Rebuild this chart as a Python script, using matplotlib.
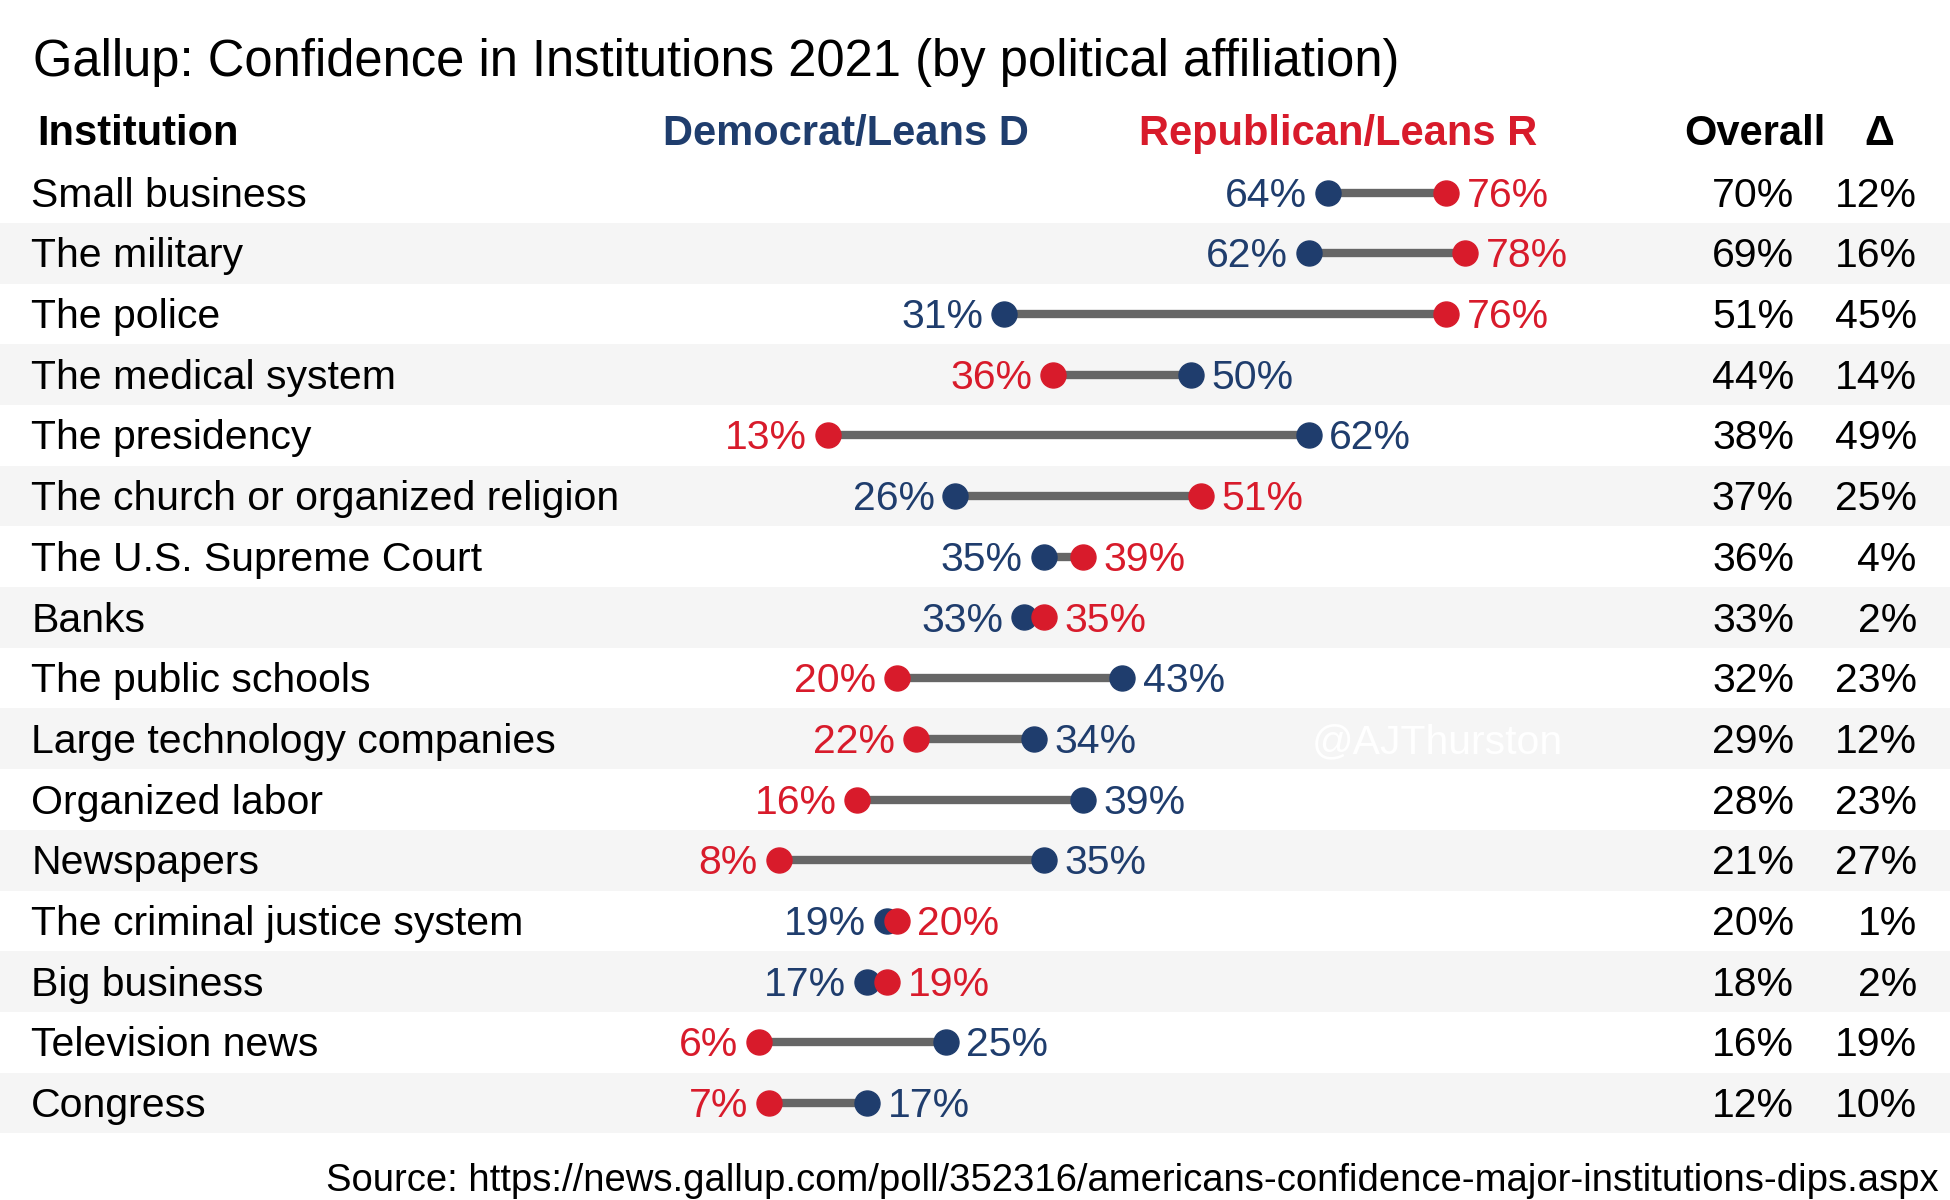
import matplotlib
matplotlib.use("Agg")
import matplotlib.pyplot as plt

institutions = [
    "Small business", "The military", "The police", "The medical system",
    "The presidency", "The church or organized religion", "The U.S. Supreme Court",
    "Banks", "The public schools", "Large technology companies", "Organized labor",
    "Newspapers", "The criminal justice system", "Big business",
    "Television news", "Congress",
]
dem = [64, 62, 31, 50, 62, 26, 35, 33, 43, 34, 39, 35, 19, 17, 25, 17]
rep = [76, 78, 76, 36, 13, 51, 39, 35, 20, 22, 16, 8, 20, 19, 6, 7]
overall = [70, 69, 51, 44, 38, 37, 36, 33, 32, 29, 28, 21, 20, 18, 16, 12]
delta = [12, 16, 45, 14, 49, 25, 4, 2, 23, 12, 23, 27, 1, 2, 19, 10]

BLUE = "#1f3d6d"
RED = "#d81b2b"
GRAY = "#666666"
BAND = "#f5f5f5"

plt.rcParams["font.family"] = ["Liberation Sans", "DejaVu Sans"]

fig = plt.figure(figsize=(19.5, 12), dpi=100)
ax = fig.add_axes([0, 0, 1, 1])
ax.set_xlim(-71.4, 127.4)
ax.set_ylim(16.6, -3.176)
ax.axis("off")

fs = 29.5
lab = ax.get_yaxis_transform()  # x in axes fraction, y in data
ty = 0.05  # nudge text down a hair to sit level with the dots

for i, name in enumerate(institutions):
    if i % 2 == 1:
        ax.axhspan(i - 0.5, i + 0.5, color=BAND, zorder=0, lw=0)
    d, r = dem[i], rep[i]
    ax.plot([d, r], [i, i], color=GRAY, lw=6, zorder=1, solid_capstyle="butt")
    ax.plot(d, i, "o", color=BLUE, ms=18, zorder=2)
    ax.plot(r, i, "o", color=RED, ms=18, zorder=3)
    lo, hi = (d, r) if d <= r else (r, d)
    lo_c, hi_c = (BLUE, RED) if d <= r else (RED, BLUE)
    ax.annotate(f"{lo}%", (lo, i + ty), xytext=(-15, 0), textcoords="offset points",
                ha="right", va="center", fontsize=fs, color=lo_c)
    ax.annotate(f"{hi}%", (hi, i + ty), xytext=(15, 0), textcoords="offset points",
                ha="left", va="center", fontsize=fs, color=hi_c)
    ax.text(0.016, i + ty, name, transform=lab, ha="left", va="center", fontsize=fs)
    ax.text(0.920, i + ty, f"{overall[i]}%", transform=lab, ha="right", va="center", fontsize=fs)
    ax.text(0.983, i + ty, f"{delta[i]}%", transform=lab, ha="right", va="center", fontsize=fs)

ax.text(0.737, 9 + ty, "@AJThurston", transform=lab, ha="center", va="center",
        fontsize=fs, color="white", zorder=0.5)

hy = -0.96
hfs = 30
ax.text(0.019, hy, "Institution", transform=lab, ha="left", va="center",
        fontsize=hfs, fontweight="bold")
ax.text(0.434, hy, "Democrat/Leans D", transform=lab, ha="center", va="center",
        fontsize=hfs, fontweight="bold", color=BLUE)
ax.text(0.686, hy, "Republican/Leans R", transform=lab, ha="center", va="center",
        fontsize=hfs, fontweight="bold", color=RED)
ax.text(0.900, hy, "Overall", transform=lab, ha="center", va="center",
        fontsize=hfs, fontweight="bold")
ax.text(0.964, hy, "Δ", transform=lab, ha="center", va="center",
        fontsize=hfs, fontweight="bold")

ax.text(0.017, -2.15, "Gallup: Confidence in Institutions 2021 (by political affiliation)",
        transform=lab, ha="left", va="center", fontsize=36.5)
ax.text(0.994, 16.28,
        "Source: https://news.gallup.com/poll/352316/americans-confidence-major-institutions-dips.aspx",
        transform=lab, ha="right", va="center", fontsize=27.5)

fig.savefig("out.png", dpi=100, facecolor="white")
